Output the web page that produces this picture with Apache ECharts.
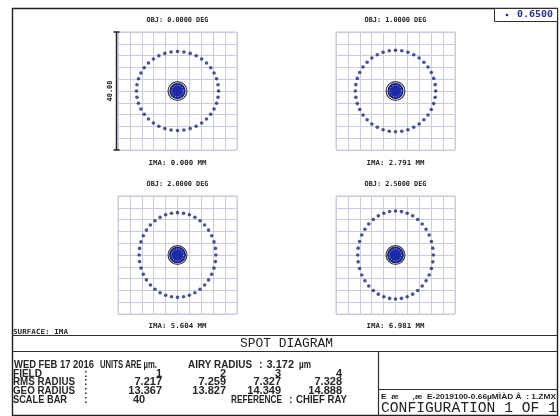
<!DOCTYPE html>
<html>
<head>
<meta charset="utf-8">
<script src="https://cdn.jsdelivr.net/npm/echarts/dist/echarts.min.js"></script>
<style>html,body{margin:0;padding:0;background:#fff}#chart{width:560px;height:416px}</style>
</head>
<body>
<div id="chart"></div>
<script>
// Spot diagram: four field points, one wavelength
const fieldNumbers = ['1', '2', '3', '4'];
const objectFields = ['OBJ: 0.0000 DEG', 'OBJ: 1.0000 DEG', 'OBJ: 2.0000 DEG', 'OBJ: 2.5000 DEG'];
const imageHeights = ['IMA: 0.000 MM', 'IMA: 2.791 MM', 'IMA: 5.604 MM', 'IMA: 6.981 MM'];
const rmsRadius = ['7.217', '7.259', '7.327', '7.328'];
const geoRadius = ['13.367', '13.827', '14.349', '14.888'];
// marginal ray ring semi-axes (µm) and core spot radius (µm) per field
const ringRadiusX = [13.8, 13.5, 12.9, 12.7];
const ringRadiusY = [13.4, 13.8, 14.35, 14.89];
const coreRadius = [2.5, 2.5, 2.6, 2.6];
const raysPerRing = 40;
const airyRadius = 3.172;
const scaleBar = 40;
const wavelength = '0.6500';
const axisHalf = 20, axisStep = 4;

const chart = echarts.init(document.getElementById('chart'));

const gridColor = '#cbcce0';
const dotColor = '#1f2680';
const monoFont = "'DejaVu Sans Mono', monospace";

function ringPoints(i) {
  const pts = [];
  for (let k = 0; k < raysPerRing; k++) {
    const a = 2 * Math.PI * k / raysPerRing;
    pts.push([ringRadiusX[i] * Math.sin(a), ringRadiusY[i] * Math.cos(a)]);
  }
  return pts;
}

const boxes = [
  { left: 118, top: 32 }, { left: 336, top: 32 },
  { left: 118, top: 196 }, { left: 336, top: 196 }
];

const grids = [], xAxes = [], yAxes = [], series = [];
boxes.forEach((b, i) => {
  grids.push({ left: b.left, top: b.top, width: 119, height: 118, show: true, borderColor: gridColor, borderWidth: 1, backgroundColor: 'transparent' });
  const ax = {
    type: 'value', gridIndex: i, min: -axisHalf, max: axisHalf, interval: axisStep,
    axisLabel: { show: false }, axisTick: { show: false },
    axisLine: { show: false },
    splitLine: { show: true, showMinLine: true, showMaxLine: true, lineStyle: { color: gridColor, width: 1 } }
  };
  xAxes.push(Object.assign({}, ax));
  yAxes.push(Object.assign({}, ax));
  series.push({
    type: 'scatter', xAxisIndex: i, yAxisIndex: i, data: ringPoints(i),
    symbol: 'circle', symbolSize: 3.6, itemStyle: { color: dotColor }, silent: true, z: 3
  });
  series.push({
    type: 'custom', xAxisIndex: i, yAxisIndex: i, data: [[0, 0]], clip: false, z: 4, silent: true,
    renderItem: (params, api) => {
      const c = api.coord([0, 0]);
      const rCore = api.size([coreRadius[i], 0])[0];
      const rAiry = api.size([airyRadius, 0])[0];
      return { type: 'group', children: [
        { type: 'circle', shape: { cx: c[0], cy: c[1], r: rAiry }, style: { fill: 'none', stroke: '#3c3c44', lineWidth: 1.2 } },
        { type: 'circle', shape: { cx: c[0], cy: c[1], r: rCore }, style: { fill: '#1c2aa8', stroke: '#161c6a', lineWidth: 1.2 } },
        { type: 'circle', shape: { cx: c[0], cy: c[1], r: rCore * 0.78 }, style: { fill: 'none', stroke: 'rgba(215,222,255,0.8)', lineWidth: 1, lineDash: [1, 1.6] } }
      ] };
    }
  });
});

// scale bar beside the first panel
series.push({
  type: 'custom', xAxisIndex: 0, yAxisIndex: 0, data: [[0, 0]], clip: false, z: 5, silent: true,
  renderItem: (params, api) => {
    const t = api.coord([-axisHalf, axisHalf]), b = api.coord([-axisHalf, -axisHalf]);
    const x = Math.round(t[0]) - 1.5;
    const st = { stroke: '#222', lineWidth: 1.5 };
    return { type: 'group', children: [
      { type: 'line', shape: { x1: x, y1: t[1], x2: x, y2: b[1] }, style: st },
      { type: 'line', shape: { x1: x - 3, y1: t[1], x2: x + 3, y2: t[1] }, style: st },
      { type: 'line', shape: { x1: x - 3, y1: b[1], x2: x + 3, y2: b[1] }, style: st },
      { type: 'text', x: x - 6, y: (t[1] + b[1]) / 2, rotation: Math.PI / 2,
        style: { text: scaleBar.toFixed(2), font: 'bold 7px ' + monoFont, fill: '#222', align: 'center', verticalAlign: 'middle' } }
    ] };
  }
});

// text helpers
const measureCtx = document.createElement('canvas').getContext('2d');
function txt(str, x, y, font, o) {
  o = o || {};
  let sx = o.scaleX || 1;
  if (o.width) { measureCtx.font = font; sx = o.width / measureCtx.measureText(str).width; }
  return { type: 'text', x: x, y: y, scaleX: sx, z: 10, silent: true,
    style: { text: str, font: font, fill: o.fill || '#262626', align: o.align || 'left', verticalAlign: 'middle' } };
}
function hline(x1, x2, y, w) { return { type: 'line', z: 9, silent: true, shape: { x1: x1, y1: y, x2: x2, y2: y }, style: { stroke: '#303030', lineWidth: w || 1 } }; }
function vline(x, y1, y2, w) { return { type: 'line', z: 9, silent: true, shape: { x1: x, y1: y1, x2: x, y2: y2 }, style: { stroke: '#303030', lineWidth: w || 1 } }; }

const panelFont = 'bold 7px ' + monoFont;
const tableFont = "bold 11px 'Liberation Sans', sans-serif";
const graphics = [];

// frame and dividers
graphics.push({ type: 'rect', z: 9, silent: true, shape: { x: 12.5, y: 8.5, width: 545, height: 407 }, style: { fill: 'none', stroke: '#202020', lineWidth: 1.4 } });
graphics.push(hline(12, 558, 335.5, 1.2), hline(12, 558, 351.5, 1.2), vline(378.5, 351, 416, 1.2), hline(378, 558, 389.5, 1.2));
graphics.push({ type: 'rect', z: 9, silent: true, shape: { x: 494.5, y: 8.5, width: 63, height: 13 }, style: { fill: '#fff', stroke: '#303030', lineWidth: 1 } });

// wavelength key
graphics.push({ type: 'circle', z: 10, silent: true, shape: { cx: 507, cy: 15, r: 1.3 }, style: { fill: dotColor } });
graphics.push(txt(wavelength, 517, 15, 'bold 8px ' + monoFont, { width: 36, fill: '#2a3290' }));

// panel captions
const centers = [177.5, 395.5];
objectFields.forEach((s, i) => {
  const cx = centers[i % 2];
  const row = Math.floor(i / 2);
  graphics.push(txt(s, cx, row ? 184.5 : 20, panelFont, { align: 'center', width: 62 }));
  graphics.push(txt(imageHeights[i], cx, row ? 326 : 163, panelFont, { align: 'center', width: 58 }));
});
graphics.push(txt('SURFACE: IMA', 13, 332, panelFont, { width: 55 }));

// title strip
graphics.push(txt('SPOT DIAGRAM', 286.5, 343.5, "13px 'Liberation Mono', monospace", { align: 'center', width: 93, fill: '#222' }));

// data table
const rowsY = [365, 373.5, 382, 391, 400];
const colEnds = [162, 226, 281, 342];
graphics.push(txt('WED FEB 17 2016', 14, rowsY[0], tableFont, { width: 80 }));
graphics.push(txt('UNITS ARE \u00b5m.', 100, rowsY[0], tableFont, { width: 57 }));
graphics.push(txt('AIRY RADIUS', 188, rowsY[0], tableFont, { width: 64 }));
graphics.push(txt(':', 259, rowsY[0], tableFont));
graphics.push(txt(airyRadius.toFixed(3), 294, rowsY[0], tableFont, { align: 'right' }));
graphics.push(txt('\u00b5m', 299, rowsY[0], tableFont, { width: 12 }));
const rowLabels = ['FIELD', 'RMS RADIUS', 'GEO RADIUS', 'SCALE BAR'];
const rowLabelWidths = [29, 62, 62, 54];
rowLabels.forEach((s, r) => {
  graphics.push(txt(s, 13, rowsY[r + 1], tableFont, { width: rowLabelWidths[r] }));
  graphics.push(txt(':', 84, rowsY[r + 1], tableFont));
});
[fieldNumbers, rmsRadius, geoRadius].forEach((vals, r) => {
  vals.forEach((v, c) => graphics.push(txt(v, colEnds[c], rowsY[r + 1], tableFont, { align: 'right' })));
});
graphics.push(txt(String(scaleBar), 133, rowsY[4], tableFont));
graphics.push(txt('REFERENCE', 231, rowsY[4], tableFont, { width: 51 }));
graphics.push(txt(':', 289, rowsY[4], tableFont));
graphics.push(txt('CHIEF RAY', 296, rowsY[4], tableFont, { width: 51 }));

// file and configuration box
graphics.push(txt('E  \u00e6      ,\u00e6  E-2019100-0.66\u00b5M\u00cc\u00c0D \u00c2  : 1.ZMX', 381, 397, "bold 8px 'Liberation Sans', sans-serif", { width: 175 }));
graphics.push(txt('CONFIGURATION 1 OF 1', 381, 408, "15px 'Liberation Mono', monospace", { width: 176, fill: '#222' }));

chart.setOption({
  animation: false,
  backgroundColor: '#ffffff',
  grid: grids,
  xAxis: xAxes,
  yAxis: yAxes,
  series: series,
  graphic: { elements: graphics }
});
</script>
</body>
</html>
